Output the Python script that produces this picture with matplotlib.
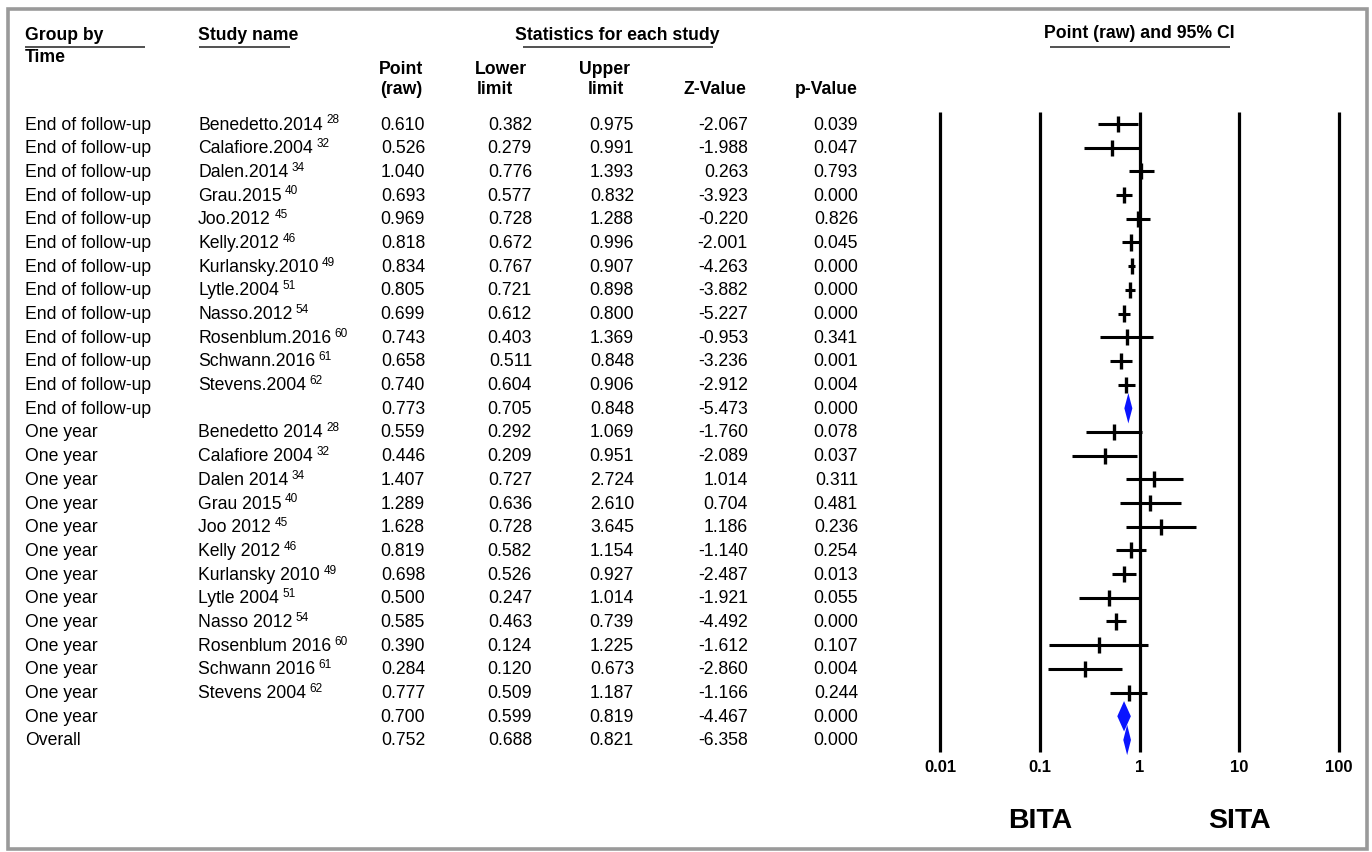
import matplotlib
matplotlib.use("Agg")
import matplotlib.pyplot as plt
from matplotlib.patches import Polygon, Rectangle

plt.rcParams['font.family'] = ['Liberation Sans', 'DejaVu Sans']

# ---- data -------------------------------------------------------------
groups = ["End of follow-up"] * 13 + ["One year"] * 13 + ["Overall"]

studies = [
    "Benedetto.2014", "Calafiore.2004", "Dalen.2014", "Grau.2015", "Joo.2012",
    "Kelly.2012", "Kurlansky.2010", "Lytle.2004", "Nasso.2012",
    "Rosenblum.2016", "Schwann.2016", "Stevens.2004", "",
    "Benedetto 2014", "Calafiore 2004", "Dalen 2014", "Grau 2015", "Joo 2012",
    "Kelly 2012", "Kurlansky 2010", "Lytle 2004", "Nasso 2012",
    "Rosenblum 2016", "Schwann 2016", "Stevens 2004", "", "",
]
refs = ["28", "32", "34", "40", "45", "46", "49", "51", "54", "60", "61", "62", "",
        "28", "32", "34", "40", "45", "46", "49", "51", "54", "60", "61", "62", "", ""]

point = [0.610, 0.526, 1.040, 0.693, 0.969, 0.818, 0.834, 0.805, 0.699, 0.743,
         0.658, 0.740, 0.773,
         0.559, 0.446, 1.407, 1.289, 1.628, 0.819, 0.698, 0.500, 0.585, 0.390,
         0.284, 0.777, 0.700, 0.752]
lower = [0.382, 0.279, 0.776, 0.577, 0.728, 0.672, 0.767, 0.721, 0.612, 0.403,
         0.511, 0.604, 0.705,
         0.292, 0.209, 0.727, 0.636, 0.728, 0.582, 0.526, 0.247, 0.463, 0.124,
         0.120, 0.509, 0.599, 0.688]
upper = [0.975, 0.991, 1.393, 0.832, 1.288, 0.996, 0.907, 0.898, 0.800, 1.369,
         0.848, 0.906, 0.848,
         1.069, 0.951, 2.724, 2.610, 3.645, 1.154, 0.927, 1.014, 0.739, 1.225,
         0.673, 1.187, 0.819, 0.821]
zval = [-2.067, -1.988, 0.263, -3.923, -0.220, -2.001, -4.263, -3.882, -5.227,
        -0.953, -3.236, -2.912, -5.473,
        -1.760, -2.089, 1.014, 0.704, 1.186, -1.140, -2.487, -1.921, -4.492,
        -1.612, -2.860, -1.166, -4.467, -6.358]
pval = [0.039, 0.047, 0.793, 0.000, 0.826, 0.045, 0.000, 0.000, 0.000, 0.341,
        0.001, 0.004, 0.000,
        0.078, 0.037, 0.311, 0.481, 0.236, 0.254, 0.013, 0.055, 0.000, 0.107,
        0.004, 0.244, 0.000, 0.000]
summary_rows = [12, 25, 26]

scale_ticks = [0.01, 0.1, 1, 10, 100]
scale_labels = ["0.01", "0.1", "1", "10", "100"]
favours = [("BITA", 0.1), ("SITA", 10)]

# ---- figure -----------------------------------------------------------
W, H = 1372, 852
fig = plt.figure(figsize=(W / 100, H / 100), dpi=100)
bg = fig.add_axes([0, 0, 1, 1])
bg.set_xlim(0, W)
bg.set_ylim(H, 0)
bg.axis("off")

bg.add_patch(Rectangle((7.5, 8.5), 1359, 840, fill=False,
                       edgecolor="#9a9a9a", lw=2.6))

FS = 12.7
row0, dy = 124.0, 23.69


def row_y(i):
    return row0 + i * dy


# headers
hdr = dict(fontsize=FS, fontweight="bold", va="center")
bg.text(25, 35, "Group by", ha="left", **hdr)
bg.text(25, 57, "Time", ha="left", **hdr)
bg.text(198, 35, "Study name", ha="left", **hdr)
bg.text(617.5, 35, "Statistics for each study", ha="center", **hdr)
bg.text(1139.5, 33, "Point (raw) and 95% CI", ha="center", **hdr)
bg.text(401, 69, "Point", ha="center", **hdr)
bg.text(401, 90, "(raw)", ha="center", **hdr)
bg.text(501, 69, "Lower", ha="center", **hdr)
bg.text(495, 90, "limit", ha="center", **hdr)
bg.text(604, 69, "Upper", ha="center", **hdr)
bg.text(606, 90, "limit", ha="center", **hdr)
bg.text(715, 90, "Z-Value", ha="center", **hdr)
bg.text(826, 90, "p-Value", ha="center", **hdr)

for x0, x1, y in [(25, 145, 46.5), (199, 290, 46.5), (523, 713, 47),
                  (1050, 1230, 47)]:
    bg.plot([x0, x1], [y, y], color="#333333", lw=1.2, solid_capstyle="butt")

# table body
col_right = [425, 532, 634, 748, 858]
for i in range(len(groups)):
    y = row_y(i) + 1
    bg.text(25, y, groups[i], ha="left", va="center", fontsize=FS)
    if studies[i]:
        t = bg.text(198, y, studies[i], ha="left", va="center", fontsize=FS)
        bg.annotate(refs[i], xy=(1, 1), xycoords=t, xytext=(2.5, 1.5),
                    textcoords="offset points", ha="left", va="top",
                    fontsize=8.5)
    vals = [f"{point[i]:.3f}", f"{lower[i]:.3f}", f"{upper[i]:.3f}",
            f"{zval[i]:.3f}", f"{pval[i]:.3f}"]
    for xr, s in zip(col_right, vals):
        bg.text(xr, y, s, ha="right", va="center", fontsize=FS)

# ---- forest plot ------------------------------------------------------
px_left, px_right, px_top, px_bot = 940, 1339, 112, 752
ax = fig.add_axes([px_left / W, 1 - px_bot / H,
                   (px_right - px_left) / W, (px_bot - px_top) / H])
ax.set_xscale("log")
ax.set_xlim(0.01, 100)
ax.set_ylim((px_bot - row0) / dy, (px_top - row0) / dy)
ax.axis("off")

ylo, yhi = ax.get_ylim()
ax.vlines(scale_ticks, yhi, ylo, color="black", lw=2.3, clip_on=False)

for i in range(len(point)):
    if i in summary_rows:
        h = 0.64
        ax.add_patch(Polygon([(lower[i], i), (point[i], i - h),
                              (upper[i], i), (point[i], i + h)],
                             closed=True, facecolor="#0a14ff",
                             edgecolor="none", clip_on=False, zorder=3))
    else:
        ax.hlines(i, lower[i], upper[i], color="black", lw=2.2,
                  capstyle="butt", zorder=2)
        ax.vlines(point[i], i - 0.34, i + 0.34, color="black", lw=2.4,
                  zorder=2)

tr = ax.get_xaxis_transform()
for v, lab in zip(scale_ticks, scale_labels):
    ax.text(v, -(768 - px_bot) / (px_bot - px_top), lab, transform=tr,
            ha="center", va="center", fontsize=12, fontweight="bold",
            clip_on=False)
for lab, v in favours:
    ax.text(v, -(821 - px_bot) / (px_bot - px_top), lab, transform=tr,
            ha="center", va="center", fontsize=20.5, fontweight="bold",
            clip_on=False)

fig.savefig("out.png", dpi=100)
